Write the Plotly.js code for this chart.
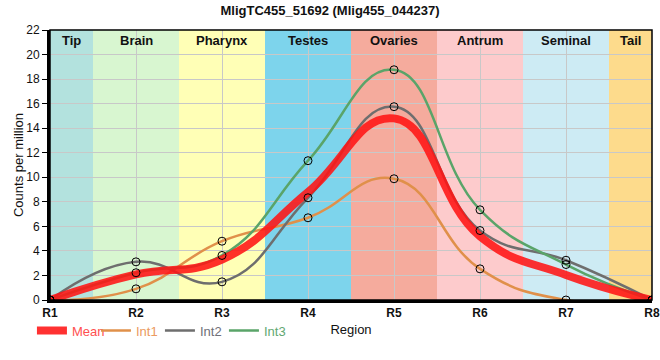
<!DOCTYPE html>
<html>
<head>
<meta charset="utf-8">
<script src="https://cdn.plot.ly/plotly-3.0.1.min.js"></script>
<style>html,body{margin:0;padding:0;background:#fff;}#chart{width:660px;height:360px;}</style>
</head>
<body>
<div id="chart"></div>
<script>
const regionLabels = ["R1","R2","R3","R4","R5","R6","R7","R8"];
const regionPos = [1,2,3,4,5,6,7,8];
const int1 = [0, 0.91, 4.79, 6.70, 9.88, 2.54, 0, 0];
const int2 = [0, 3.11, 1.48, 8.33, 15.75, 5.66, 3.24, 0];
const int3 = [0, 2.22, 3.63, 11.35, 18.76, 7.35, 2.89, 0];
const meanVals = int1.map((v,i)=> (v+int2[i]+int3[i])/3);

const bandNames = ["Tip","Brain","Pharynx","Testes","Ovaries","Antrum","Seminal","Tail"];
const bandStart = [1,1.5,2.5,3.5,4.5,5.5,6.5,7.5];
const bandEnd = [1.5,2.5,3.5,4.5,5.5,6.5,7.5,8];
const bandColors = ["#b3e2de","#d8f6d0","#ffffb6","#7dd4ec","#f5ab9d","#fdcbcc","#cdebf4","#fddb8c"];

const shapes = bandNames.map((n,i)=>({type:'rect',xref:'x',yref:'paper',x0:bandStart[i],x1:bandEnd[i],y0:0,y1:1,fillcolor:bandColors[i],line:{width:0},layer:'below'}));
shapes.push({type:'rect',xref:'paper',yref:'paper',x0:0,x1:1,y0:0,y1:1,line:{color:'#000',width:1.5},layer:'above'});
const annotations = bandNames.map((n,i)=>({x:(bandStart[i]+bandEnd[i])/2,xref:'x',y:0.995,yref:'paper',yanchor:'top',text:'<b>'+n+'</b>',showarrow:false,font:{size:13,color:'#111',family:'Liberation Sans, Arial'}}));

function lab(t,c){return '<span style="color:'+c+'">'+t+'</span>';}
const mk = {symbol:'circle-open',size:8,color:'#000',line:{width:1}};
const sm = 1.3;
const traces = [
 {x:regionPos,y:int1,mode:'lines',legendrank:2,name:lab('Int1','#eb9a60'),line:{color:'#e0904a',width:2.5,shape:'spline',smoothing:sm}},
 {x:regionPos,y:int2,mode:'lines',legendrank:3,name:lab('Int2','#6f6f78'),line:{color:'#6e6e6e',width:2.5,shape:'spline',smoothing:sm}},
 {x:regionPos,y:int3,mode:'lines',legendrank:4,name:lab('Int3','#62a872'),line:{color:'#5aa469',width:2.5,shape:'spline',smoothing:sm}},
 {x:regionPos,y:meanVals,mode:'lines',legendrank:1,name:lab('Mean','#ff5050'),line:{color:'rgba(255,20,20,0.88)',width:8,shape:'spline',smoothing:sm}},
 {x:regionPos,y:int1,mode:'markers',showlegend:false,marker:mk},
 {x:regionPos,y:int2,mode:'markers',showlegend:false,marker:mk},
 {x:regionPos,y:int3,mode:'markers',showlegend:false,marker:mk}
];

const layout = {
 width:660,height:360,
 margin:{l:50,r:8,t:30,b:60},
 paper_bgcolor:'#fff',plot_bgcolor:'rgba(0,0,0,0)',
 font:{family:'Liberation Sans, Arial',size:12,color:'#111'},
 title:{text:'<b>MligTC455_51692 (Mlig455_044237)</b>',x:0.5,xanchor:'center',y:0.985,yanchor:'top',font:{size:13,color:'#111'}},
 xaxis:{range:[1,8],tickvals:regionPos,ticktext:regionLabels.map(t=>'<b>'+t+'</b>'),showgrid:true,gridcolor:'#c8c8c8',gridwidth:1,zeroline:false,showline:true,linecolor:'#000',linewidth:3,ticks:'',tickfont:{size:12,color:'#111'},
   title:{text:'Region',standoff:6,font:{size:13,color:'#111'}}},
 yaxis:{range:[0,22],dtick:2,showgrid:true,gridcolor:'#c8c8c8',gridwidth:1,zeroline:false,showline:true,linecolor:'#000',linewidth:3,ticks:'outside',ticklen:5,tickcolor:'#000',tickfont:{size:12,color:'#111'},
   title:{text:'Counts per million',standoff:0,font:{size:13,color:'#111'}}},
 shapes:shapes,annotations:annotations,
 showlegend:true,
 legend:{orientation:'h',x:-0.03,xanchor:'left',y:-0.113,yanchor:'middle',bgcolor:'rgba(0,0,0,0)',font:{size:13,family:'Liberation Sans, Arial'},itemwidth:30,entrywidth:19,entrywidthmode:'pixels',traceorder:'normal'}
};
Plotly.newPlot('chart',traces,layout,{displayModeBar:false,staticPlot:true});
</script>
</body>
</html>
